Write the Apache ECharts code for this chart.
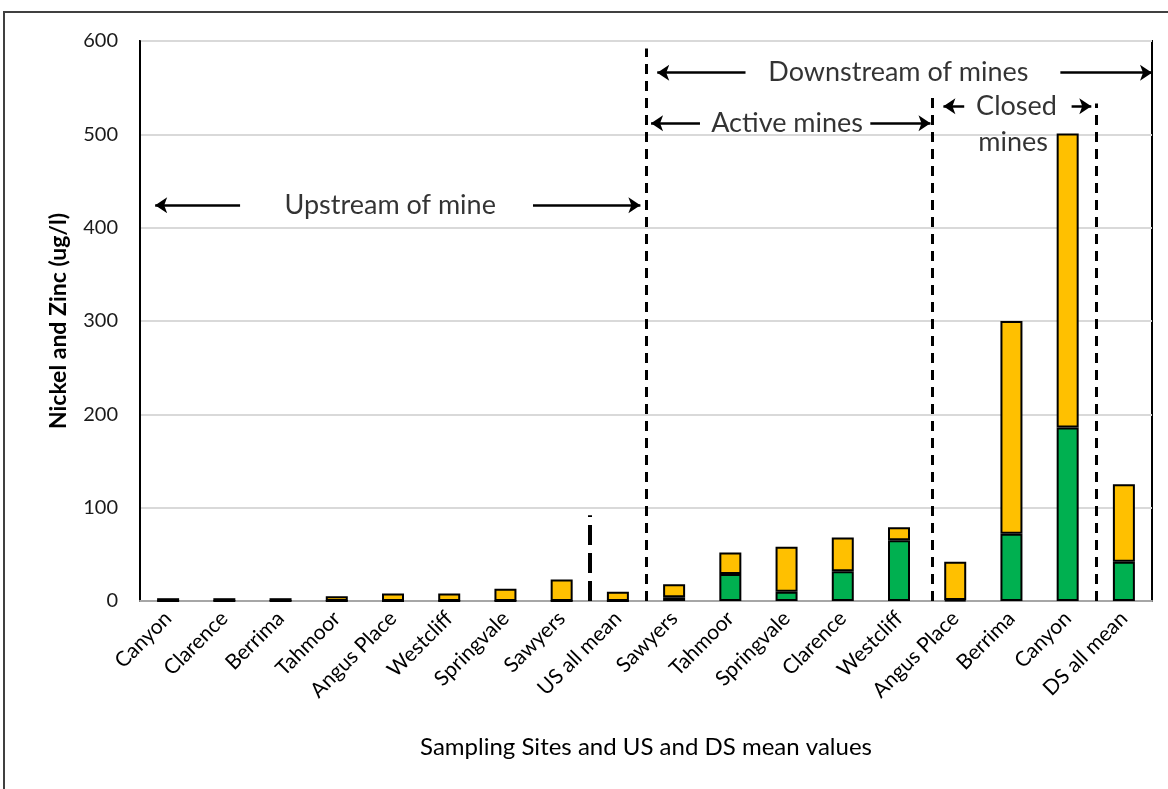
<!DOCTYPE html>
<html>
<head>
<meta charset="utf-8">
<script src="https://cdn.jsdelivr.net/npm/echarts@6/dist/echarts.min.js"></script>
<style>html,body{margin:0;padding:0;background:#fff;}#c{width:1168px;height:789px;}</style>
</head>
<body>
<div id="c"></div>
<script>
const categories = ['Canyon','Clarence','Berrima','Tahmoor','Angus Place','Westcliff','Springvale','Sawyers','US all mean','Sawyers','Tahmoor','Springvale','Clarence','Westcliff','Angus Place','Berrima','Canyon','DS all mean'];
const nickel = [0,0,0,0,0,0,0,0,0, 4,29,10,32,65,1,72,186,42];
const zinc   = [3,3,3,5,8,8,13,23,10, 14,23,48,36,14,41,228,315,83];
const yTicks = [0,100,200,300,400,500,600];

// annotations in data units: x = category slot units (0..18), y = axis value
const dividers = [
  {x:[9,9], y:[0,592], w:3, dash:[10,7]},
  {x:[14.1,14.1], y:[0,540], w:3, dash:[10,7]},
  {x:[17,17], y:[0,533], w:3, dash:[10,7]},
  {x:[8,8], y:[0,92], w:4, dash:[20,8]}
];
const arrows = [
  [[1.78,424],[0.27,424]], [[6.99,424],[8.9,424]],
  [[10.77,566],[9.2,566]], [[16.37,566],[18.0,566]],
  [[9.96,512],[9.09,512]], [[12.99,512],[14.06,512]],
  [[14.66,530],[14.29,530]], [[16.57,530],[16.92,530]]
];
const notes = [
  [4.45,424,'Upstream of mine'],
  [13.49,566,'Downstream of mines'],
  [11.51,512,'Active mines'],
  [15.59,530,'Closed'],
  [15.53,491,'mines']
];

const FONT = 'Lato';
const chart = echarts.init(document.getElementById('c'));
chart.setOption({
  animation:false,
  textStyle:{fontFamily:FONT},
  graphic:[{type:'rect',shape:{x:4,y:12,width:1300,height:900},style:{fill:'none',stroke:'#404040',lineWidth:2},silent:true,z:-10}],
  grid:{left:140,right:16,top:41,bottom:188,show:true,borderColor:'#000',borderWidth:2},
  xAxis:[{
    type:'category',data:categories,
    axisLine:{lineStyle:{color:'#a6a6a6',width:2}},
    axisTick:{show:false},
    axisLabel:{rotate:45,fontSize:21,color:'#000',margin:14,interval:0,fontFamily:FONT},
    name:'Sampling Sites and US and DS mean values',nameLocation:'middle',nameGap:134,
    nameTextStyle:{fontSize:24,color:'#000',fontFamily:FONT}
  },{
    type:'value',min:0,max:18,show:false
  }],
  yAxis:{
    type:'value',min:0,max:600,interval:100,
    axisLine:{show:true,lineStyle:{color:'#000',width:2}},
    axisTick:{show:false},
    splitLine:{lineStyle:{color:'#d9d9d9',width:2}},
    axisLabel:{fontSize:20,color:'#1a1a1a',margin:22,fontFamily:FONT,formatter:v=>yTicks.includes(v)?String(v):''},
    name:'Nickel and Zinc (ug/l)',nameLocation:'middle',nameGap:70,
    nameTextStyle:{fontSize:23,fontWeight:'bold',color:'#000',fontFamily:FONT}
  },
  series:[
    {type:'bar',name:'Nickel',stack:'t',data:nickel,barWidth:22,
     itemStyle:{color:'#00B050',borderColor:'#000',borderWidth:2}},
    {type:'bar',name:'Zinc',stack:'t',data:zinc,barWidth:22,
     itemStyle:{color:'#FFC000',borderColor:'#000',borderWidth:2}},
    ...dividers.map(d=>({type:'lines',coordinateSystem:'cartesian2d',xAxisIndex:1,yAxisIndex:0,
      symbol:['none','none'],z:5,
      lineStyle:{color:'#000',width:d.w,type:d.dash,opacity:1},
      data:[{coords:[[d.x[0],d.y[0]],[d.x[1],d.y[1]]]}]})),
    {type:'lines',coordinateSystem:'cartesian2d',xAxisIndex:1,yAxisIndex:0,
     symbol:['none','arrow'],symbolSize:12,z:5,
     lineStyle:{color:'#000',width:2.5,opacity:1},
     data:arrows.map(a=>({coords:a}))},
    {type:'scatter',xAxisIndex:1,yAxisIndex:0,symbolSize:0,z:6,
     data:notes,
     label:{show:true,position:'inside',formatter:p=>p.value[2],fontSize:27,color:'#000',fontFamily:FONT}}
  ]
});
</script>
</body>
</html>
